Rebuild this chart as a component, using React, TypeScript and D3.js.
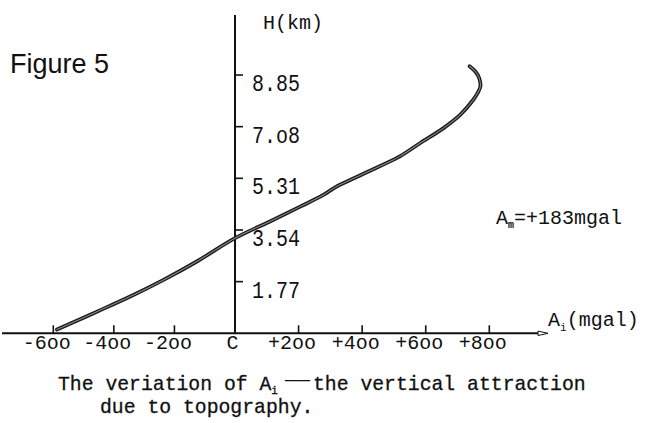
import React from "react";
import * as d3 from "d3";

// curve: A_i (mgal) vs H (km)
const aValues = [-588, -456, -346, -236, -126, 0, 110, 205, 278, 315, 352, 425, 499, 520, 583, 656, 709, 746, 763, 772, 768, 756, 738];
const hValues = [0.13, 0.74, 1.26, 1.83, 2.46, 3.26, 3.83, 4.34, 4.74, 5.0, 5.2, 5.57, 5.95, 6.07, 6.52, 7.03, 7.49, 7.95, 8.23, 8.46, 8.75, 8.97, 9.15];

const xTicks = [-600, -400, -200, 0, 200, 400, 600, 800];
const xTickLabels = ["-6oo", "-4oo", "-2oo", "C", "+2oo", "+4oo", "+6oo", "+8oo"];
const yTicks = [1.77, 3.54, 5.31, 7.08, 8.85];
const yTickLabels = ["1.77", "3.54", "5.31", "7.o8", "8.85"];

const W = 646;
const H = 423;
const MONO = "'Liberation Mono', 'DejaVu Sans Mono', monospace";

export default function App() {
  // hand-drawn axis: the two halves are not quite the same scale
  const x = d3.scaleLinear().domain([-600, 0, 800]).range([53.3, 235, 489.3]);
  const y = d3.scaleLinear().domain([0, 8.85]).range([333.3, 75]);

  const pts = aValues.map((a, i) => [a, hValues[i]] as [number, number]);
  const line = d3
    .line<[number, number]>()
    .x((d) => x(d[0]))
    .y((d) => y(d[1]))
    .curve(d3.curveCatmullRom.alpha(0.5));
  const path = line(pts) || "";

  const x0 = x(0);
  const y0 = y(0);

  return (
    <svg
      width={W}
      height={H}
      viewBox={`0 0 ${W} ${H}`}
      style={{ position: "absolute", left: 0, top: 0, background: "#fff" }}
    >
      <rect width={W} height={H} fill="#fff" />

      <text x={10} y={73} fontFamily="'Liberation Sans', Arial, sans-serif" fontSize={27} fill="#111">
        Figure 5
      </text>

      {/* axes */}
      <line x1={2} x2={540} y1={y0} y2={y0} stroke="#111" strokeWidth={2} />
      <path d={`M538,${y0 - 2.2} L548,${y0} L538,${y0 + 2.2} Z`} fill="#fff" stroke="#111" strokeWidth={1} />
      <line x1={x0} x2={x0} y1={15} y2={y0} stroke="#111" strokeWidth={2} />

      {xTicks.map((t, i) => (
        <g key={t}>
          {t !== 0 && <line x1={x(t)} x2={x(t)} y1={y0} y2={y0 - 8} stroke="#111" strokeWidth={1.6} />}
          <text
            x={x(t) - (t === 0 ? 2.5 : 6.5)}
            y={349}
            textAnchor="middle"
            fontFamily={MONO}
            fontSize={20}
            fill="#111"
          >
            {xTickLabels[i]}
          </text>
        </g>
      ))}

      {yTicks.map((t, i) => (
        <g key={t}>
          <line x1={x0} x2={x0 + 8} y1={y(t)} y2={y(t)} stroke="#111" strokeWidth={1.6} />
          <text
            x={252}
            y={0}
            transform={`translate(0, ${y(t) + 16}) scale(1, 1.15)`}
            fontFamily={MONO}
            fontSize={20}
            fill="#111"
          >
            {yTickLabels[i]}
          </text>
        </g>
      ))}

      <text x={263} y={29} fontFamily={MONO} fontSize={20} fill="#111">
        H(km)
      </text>

      <text x={548} y={326} fontFamily={MONO} fontSize={20} fill="#111">
        A
        <tspan fontSize={11} dy={5}>i</tspan>
        <tspan dy={-5}>(mgal)</tspan>
      </text>

      <text x={496} y={224} fontFamily={MONO} fontSize={20} fill="#111">
        A
        <tspan fontSize={10} fontWeight="bold" fill="#111" dy={4}>m</tspan>
        <tspan dy={-4}>=+183mgal</tspan>
      </text>

      {/* the curve, drawn as a hatched double stroke like the scan */}
      <path d={path} fill="none" stroke="#1a1a1a" strokeWidth={3.8} strokeLinecap="round" strokeLinejoin="round" />
      <path d={path} fill="none" stroke="#8a8a8a" strokeWidth={1.1} strokeLinecap="round" />

      {/* caption */}
      <text x={58} y={390} fontFamily={MONO} fontSize={19.75} fill="#111" stroke="#111" strokeWidth={0.3}>
        The veriation of A
        <tspan fontSize={11} dy={4}>i</tspan>
      </text>
      <text x={285} y={386} fontFamily={MONO} fontSize={19.75} fill="#111" textLength={25} lengthAdjust="spacingAndGlyphs">
        ——
      </text>
      <text x={313} y={390} fontFamily={MONO} fontSize={19.75} fill="#111" stroke="#111" strokeWidth={0.3}>
        the vertical attraction
      </text>
      <text x={100} y={413} fontFamily={MONO} fontSize={19.75} fill="#111" stroke="#111" strokeWidth={0.3}>
        due to topography.
      </text>
    </svg>
  );
}
